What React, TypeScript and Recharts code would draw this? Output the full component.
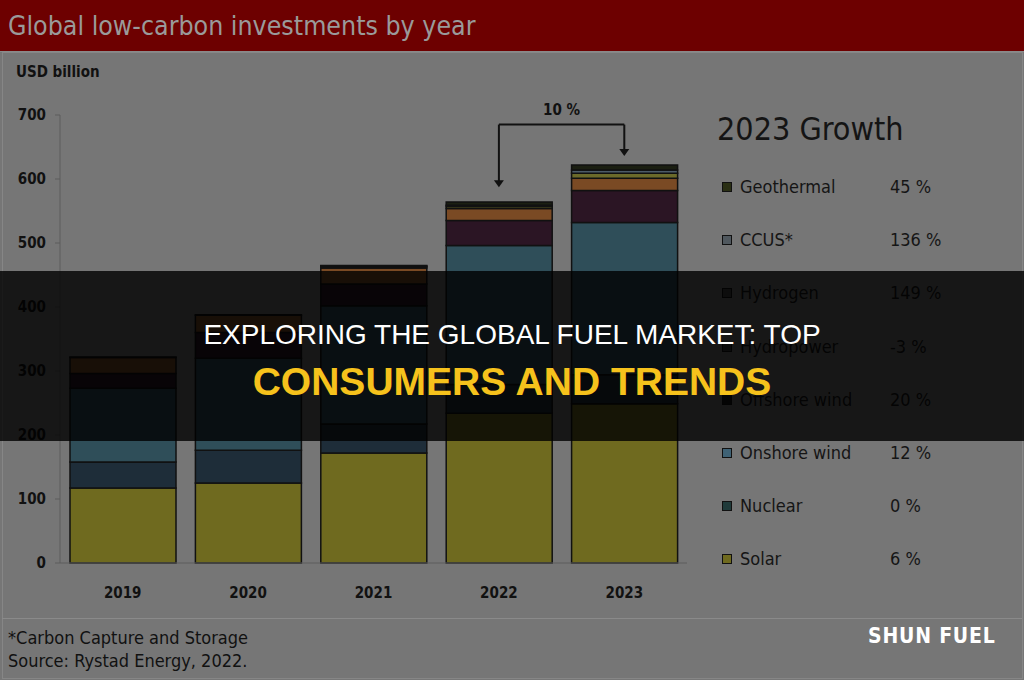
import { Bar, BarChart, ReferenceLine, XAxis, YAxis } from "recharts"

const years = ["2019", "2020", "2021", "2022", "2023"]
const solar = [117, 125, 172, 234, 249]
const nuclear = [41, 51, 45, 45, 45]
const onshoreWind = [115, 144, 185, 217, 238]
const offshoreWind = [23, 40, 34, 39, 50]
const hydropower = [25, 27, 25, 19, 19]
const hydrogen = [0, 0, 2, 3, 8]
const ccus = [0, 0, 1, 2, 5]
const geothermal = [1, 1, 1, 5, 8]

const yTicks = [0, 100, 200, 300, 400, 500, 600, 700]

const growthLabels = ["Geothermal", "CCUS*", "Hydrogen", "Hydropower", "Offshore wind", "Onshore wind", "Nuclear", "Solar"]
const growthValues = ["45 %", "136 %", "149 %", "-3 %", "20 %", "12 %", "0 %", "6 %"]

// bracket annotation, in data units
const bracketLevel = 685
const tip2022 = 587
const tip2023 = 636

const series = [
  { key: "solar", color: "#6f6a1f" },
  { key: "nuclear", color: "#1e2d39" },
  { key: "onshoreWind", color: "#2f4e59" },
  { key: "offshoreWind", color: "#2b1524" },
  { key: "hydropower", color: "#7a4a24" },
  { key: "hydrogen", color: "#6b6a2a" },
  { key: "ccus", color: "#4b5a67" },
  { key: "geothermal", color: "#1b1f12" },
]

const legendColors = ["#2a2f14", "#50585e", "#444", "#3a3a3a", "#151515", "#3f6275", "#1f3a3a", "#6f6a1f"]

const data = years.map((year, i) => ({
  year,
  solar: solar[i],
  nuclear: nuclear[i],
  onshoreWind: onshoreWind[i],
  offshoreWind: offshoreWind[i],
  hydropower: hydropower[i],
  hydrogen: hydrogen[i],
  ccus: ccus[i],
  geothermal: geothermal[i],
}))

const font = "'DejaVu Sans Condensed', 'DejaVu Sans', sans-serif"

const ArrowDown = (props: any) => {
  const { x1, y1, x2, y2 } = props
  return (
    <g>
      <line x1={x1} y1={y1} x2={x2} y2={y2 - 4} stroke="#111" strokeWidth={2} />
      <polygon points={`${x2 - 5},${y2 - 7} ${x2 + 5},${y2 - 7} ${x2},${y2}`} fill="#111" />
    </g>
  )
}

export default function App() {
  return (
    <div
      style={{
        position: "absolute",
        left: 0,
        top: 0,
        width: 1024,
        height: 680,
        background: "#767676",
        fontFamily: font,
        overflow: "hidden",
      }}
    >
      <div
        style={{
          position: "absolute",
          left: 0,
          top: 0,
          width: 1024,
          height: 51,
          background: "#6d0000",
          borderBottom: "1px solid #8a8a8a",
        }}
      >
        <div style={{ position: "absolute", left: 8, top: 10, fontSize: 26.5, color: "#9a9a9a" }}>
          Global low-carbon investments by year
        </div>
      </div>
      <div style={{ position: "absolute", left: 2, top: 52, width: 1019, height: 625, border: "1px solid #868686" }} />
      <div style={{ position: "absolute", left: 16, top: 63, fontSize: 15, fontWeight: "bold", color: "#111" }}>
        USD billion
      </div>

      <div style={{ position: "absolute", left: 0, top: 0 }}>
        <BarChart
          width={1024}
          height={680}
          data={data}
          margin={{ top: 115, right: 337, bottom: 87, left: 0 }}
          barSize={106}
        >
          <XAxis
            dataKey="year"
            axisLine={{ stroke: "#5c5c5c" }}
            tickLine={false}
            tickMargin={18}
            height={30}
            tick={{ fill: "#111", fontSize: 15, fontWeight: "bold", fontFamily: font }}
          />
          <YAxis
            width={60}
            domain={[0, 700]}
            ticks={yTicks}
            axisLine={{ stroke: "#5c5c5c" }}
            tickLine={{ stroke: "#5c5c5c" }}
            tickSize={5}
            tickMargin={9}
            tick={{ fill: "#111", fontSize: 15, fontWeight: "bold", fontFamily: font }}
          />
          {series.map((s) => (
            <Bar
              key={s.key}
              dataKey={s.key}
              stackId="a"
              fill={s.color}
              stroke="#111"
              strokeWidth={1.5}
              isAnimationActive={false}
            />
          ))}
          <ReferenceLine
            segment={[
              { x: "2022", y: bracketLevel },
              { x: "2023", y: bracketLevel },
            ]}
            stroke="#111"
            strokeWidth={2}
            label={{ value: "10 %", position: "top", offset: 10, fill: "#111", fontSize: 15, fontWeight: "bold", fontFamily: font }}
          />
          <ReferenceLine
            segment={[
              { x: "2022", y: bracketLevel },
              { x: "2022", y: tip2022 },
            ]}
            shape={ArrowDown}
          />
          <ReferenceLine
            segment={[
              { x: "2023", y: bracketLevel },
              { x: "2023", y: tip2023 },
            ]}
            shape={ArrowDown}
          />
        </BarChart>
      </div>

      <div style={{ position: "absolute", left: 717, top: 110, fontSize: 32, color: "#141414" }}>2023 Growth</div>
      {growthLabels.map((label, i) => (
        <div key={label} style={{ position: "absolute", left: 722, top: 176 + i * 53.2, height: 22, width: 250 }}>
          <div
            style={{
              position: "absolute",
              left: 0,
              top: 6,
              width: 8,
              height: 8,
              background: legendColors[i],
              border: "1px solid #111",
            }}
          />
          <div style={{ position: "absolute", left: 18, top: 0, fontSize: 18, color: "#151515" }}>{label}</div>
          <div style={{ position: "absolute", left: 168, top: 0, fontSize: 18, color: "#151515" }}>{growthValues[i]}</div>
        </div>
      ))}

      <div style={{ position: "absolute", left: 2, top: 618, width: 1020, height: 1, background: "#8a8a8a" }} />
      <div style={{ position: "absolute", left: 8, top: 626, fontSize: 18, color: "#111", lineHeight: "23px" }}>
        *Carbon Capture and Storage
        <br />
        Source: Rystad Energy, 2022.
      </div>
      <div
        style={{
          position: "absolute",
          left: 868,
          top: 624,
          fontSize: 21,
          fontWeight: "bold",
          color: "#fff",
          letterSpacing: 0.8,
        }}
      >
        SHUN FUEL
      </div>

      <div
        style={{
          position: "absolute",
          left: 0,
          top: 271,
          width: 1024,
          height: 170,
          background: "rgba(0,0,0,0.8)",
          fontFamily: "'Liberation Sans', Arial, sans-serif",
          textAlign: "center",
        }}
      >
        <div style={{ position: "absolute", left: 0, width: 1024, top: 48, fontSize: 28, color: "#fff", lineHeight: "32px" }}>
          EXPLORING THE GLOBAL FUEL MARKET: TOP
        </div>
        <div
          style={{
            position: "absolute",
            left: 0,
            width: 1024,
            top: 89,
            fontSize: 39,
            fontWeight: "bold",
            color: "#f6c21c",
            lineHeight: "44px",
          }}
        >
          CONSUMERS AND TRENDS
        </div>
      </div>
    </div>
  )
}
